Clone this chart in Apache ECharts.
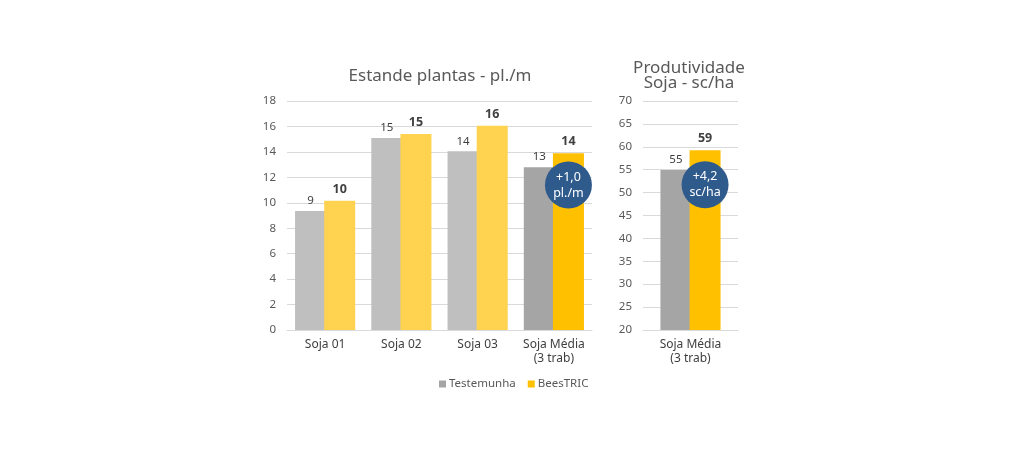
<!DOCTYPE html>
<html>
<head>
<meta charset="utf-8">
<script src="https://cdn.jsdelivr.net/npm/echarts@6/dist/echarts.min.js"></script>
<style>
html,body{margin:0;padding:0;background:#fff;}
#c{width:1024px;height:455px;}
</style>
</head>
<body>
<div id="c"></div>
<script>
// ---- data ----
const standCategories = ['Soja 01', 'Soja 02', 'Soja 03', 'Soja Média\n(3 trab)'];
const standTestemunha = [9.35, 15.1, 14.05, 12.8];
const standBeestric = [10.15, 15.4, 16.05, 13.9];
const standTicks = { min: 0, max: 18, interval: 2 };

const prodCategories = ['Soja Média\n(3 trab)'];
const prodTestemunha = [54.95];
const prodBeestric = [59.25];
const prodTicks = { min: 20, max: 70, interval: 5 };

const standBadge = '+1,0\npl./m';
const prodBadge = '+4,2\nsc/ha';

// ---- styles ----
const FONT = 'Noto Sans';
const TXT = '#595959';
const GRAY_LIGHT = '#BFBFBF', GRAY_DARK = '#A5A5A5';
const YEL_LIGHT = '#FFD24F', YEL_DARK = '#FFC000';
const BADGE = '#2F5A8C';

function colored(arr, light, dark) {
  return arr.map((v, i) => ({ value: v, itemStyle: { color: i === arr.length - 1 ? dark : light } }));
}

const chart = echarts.init(document.getElementById('c'));

const yAxisBase = {
  type: 'value',
  axisLine: { show: false }, axisTick: { show: false },
  axisLabel: { color: TXT, fontSize: 11.5, fontFamily: FONT, margin: 11 },
  splitLine: { lineStyle: { color: '#D9D9D9', width: 1 } }
};
const xAxisBase = {
  type: 'category',
  axisLine: { lineStyle: { color: '#D9D9D9' } },
  axisTick: { show: false },
  axisLabel: { color: '#404040', fontSize: 12, fontFamily: FONT, lineHeight: 14, margin: 8, interval: 0, hideOverlap: false }
};
const grayLabel = { show: true, position: 'top', distance: 4, color: '#404040', fontSize: 11.5, fontFamily: FONT,
  formatter: p => Math.round(p.value) };
const yelLabel = { show: true, position: 'top', distance: 5, color: '#404040', fontSize: 12.5, fontWeight: 'bold', fontFamily: FONT,
  formatter: p => Math.round(p.value) };
function badge(coord, text) {
  return {
    symbol: 'circle', symbolSize: 47, silent: true,
    itemStyle: { color: BADGE },
    label: { show: true, position: 'inside', formatter: text, color: '#fff', fontSize: 12.5, lineHeight: 16, fontFamily: FONT },
    data: [{ coord: coord }]
  };
}

chart.setOption({
  animation: false,
  textStyle: { fontFamily: FONT },
  title: [
    { text: 'Estande plantas - pl./m', left: 435, top: 63, textAlign: 'center',
      textStyle: { color: TXT, fontSize: 17, fontWeight: 'normal', fontFamily: FONT } },
    { text: 'Produtividade\nSoja - sc/ha', left: 684, top: 56, textAlign: 'center',
      textStyle: { color: TXT, fontSize: 17, fontWeight: 'normal', lineHeight: 15, fontFamily: FONT } }
  ],
  legend: {
    left: 434, top: 373, itemWidth: 7, itemHeight: 7, itemGap: 12, icon: 'rect',
    textStyle: { color: TXT, fontSize: 11.5, fontFamily: FONT, padding: [0, 0, 0, -2] },
    data: ['Testemunha', 'BeesTRIC']
  },
  grid: [
    { left: 287, right: 432, top: 101, bottom: 125 },
    { left: 643, right: 286, top: 101, bottom: 125 }
  ],
  xAxis: [
    Object.assign({}, xAxisBase, { gridIndex: 0, data: standCategories }),
    Object.assign({}, xAxisBase, { gridIndex: 1, data: prodCategories })
  ],
  yAxis: [
    Object.assign({}, yAxisBase, { gridIndex: 0 }, standTicks),
    Object.assign({}, yAxisBase, { gridIndex: 1 }, prodTicks)
  ],
  series: [
    { name: 'Testemunha', type: 'bar', xAxisIndex: 0, yAxisIndex: 0, barWidth: 31, barGap: '-6%',
      itemStyle: { color: GRAY_DARK }, label: grayLabel,
      data: colored(standTestemunha, GRAY_LIGHT, GRAY_DARK) },
    { name: 'BeesTRIC', type: 'bar', xAxisIndex: 0, yAxisIndex: 0, barWidth: 31, barGap: '-6%',
      itemStyle: { color: YEL_DARK }, label: yelLabel,
      data: colored(standBeestric, YEL_LIGHT, YEL_DARK),
      markPoint: badge([3, 11.4], standBadge) },
    { name: 'Testemunha', type: 'bar', xAxisIndex: 1, yAxisIndex: 1, barWidth: 31, barGap: '-6%',
      itemStyle: { color: GRAY_DARK }, label: grayLabel,
      data: prodTestemunha },
    { name: 'BeesTRIC', type: 'bar', xAxisIndex: 1, yAxisIndex: 1, barWidth: 31, barGap: '-6%',
      itemStyle: { color: YEL_DARK }, label: yelLabel,
      data: prodBeestric,
      markPoint: badge([0, 51.7], prodBadge) }
  ]
});
</script>
</body>
</html>
